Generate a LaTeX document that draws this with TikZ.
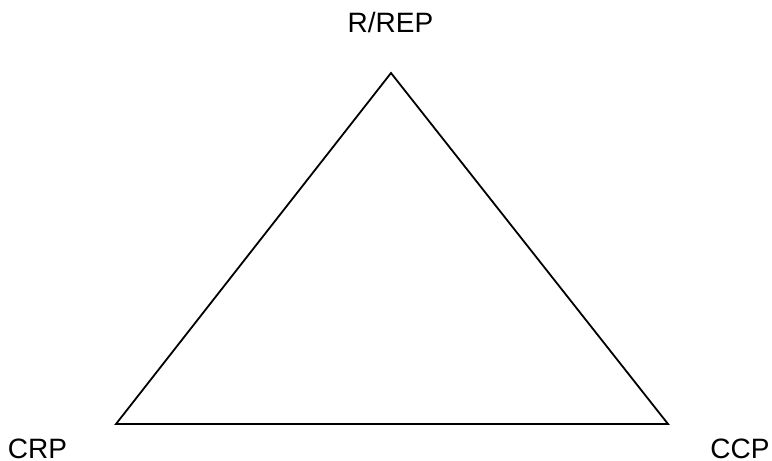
\documentclass[tikz,border=0pt]{standalone}
\usepackage{fontspec}
\setmainfont{Liberation Sans}
\begin{document}
\begin{tikzpicture}[x=1pt,y=-1pt,
  lbl/.style={inner sep=0pt,font=\fontsize{28}{30}\selectfont},
  edge/.style={line width=1.8pt,line join=miter}]
\useasboundingbox (0,0) rectangle (772,461);
\coordinate (top) at (391,73);
\coordinate (bl) at (116,424);
\coordinate (br) at (668,424);
\draw[edge] (top) -- (bl) -- (br) -- cycle;
\node[lbl,anchor=base] (rep) at (390.5,32) {R/REP};
\node[lbl,anchor=base] (crp) at (37.5,458) {CRP};
\node[lbl,anchor=base] (ccp) at (740,458) {CCP};
\end{tikzpicture}
\end{document}
